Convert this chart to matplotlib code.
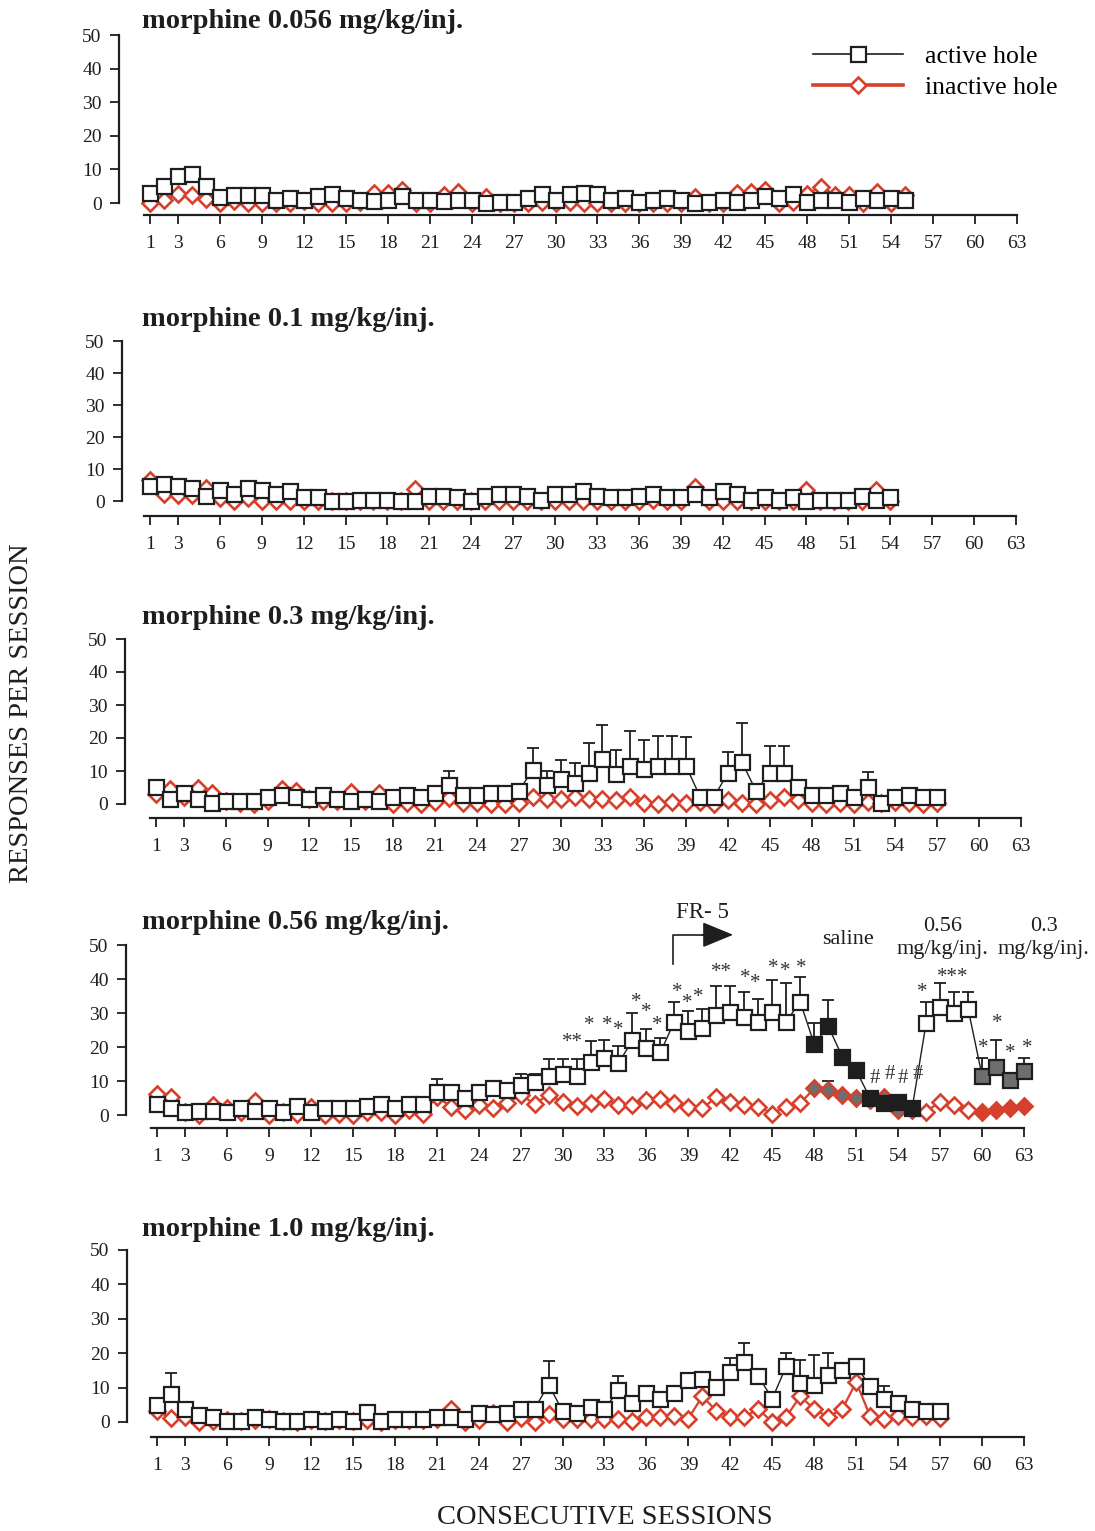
import numpy as np
import matplotlib.pyplot as plt
from matplotlib.lines import Line2D

plt.rcParams['font.family'] = ['Liberation Serif', 'DejaVu Serif']

RED = '#d6402c'
GREY = '#6e6e6e'
INK = '#1e1e1e'

# ---------------- data: mean responses per session ----------------
active_0056 = [3.1, 5, 8, 8.7, 5, 1.9, 2.5, 2.5, 2.5, 0.8,
               1.4, 0.8, 2, 2.6, 1.4, 0.8, 0.5, 0.8, 2.1, 0.8,
               0.8, 0.5, 0.8, 0.8, 0, 0.2, 0.2, 1.4, 2.6, 0.8,
               2.6, 3.1, 2.6, 0.8, 1.4, 0.3, 0.8, 1.4, 0.8, 0,
               0.2, 0.8, 0.2, 0.8, 2, 1.4, 2.6, 0.2, 0.8, 0.8,
               0.2, 1.4, 0.8, 1.4, 0.8]
inactive_0056 = [0.1, 0.9, 2.8, 2.4, 1.1, 0, 0.6, 0, 0, 0,
                 0, 0.5, 0, 0, 0, 0.3, 3, 3, 3.8, 0,
                 0, 2.4, 3.3, 0, 1.9, 0, 0, 0, 0.4, 0,
                 0.4, 0, 0, 0, 0, 0, 0, 0, 0, 1.7,
                 0, 0, 3, 3.3, 4, 0, 0.4, 2.8, 4.8, 2.4,
                 2.4, 0, 3.3, 0, 2.4]

active_01 = [4.8, 5.4, 4.8, 4.1, 1.6, 3.5, 2.1, 4.2, 3.5, 2.3,
             3, 1.1, 1.1, 0, 0, 0.4, 0.4, 0.4, 0, 0,
             1.7, 1.7, 1.1, 0, 1.7, 2.3, 2.3, 1.7, 0.4, 2.3,
             2.3, 3, 1.7, 1.1, 1.1, 1.7, 2.3, 1.1, 1.1, 2.3,
             1.1, 3, 2.3, 0.4, 1.1, 0.4, 1.1, 0, 0.4, 0.4,
             0.4, 1.7, 0.4, 1.1]
inactive_01 = [6.5, 2.3, 1.8, 1.8, 4, 0.8, 0, 0.8, 0, 0,
               0, 0, 0, 0, 0, 0, 0, 0, 0, 3.6,
               0, 0, 0, 0, 0, 0, 0, 0, 0, 0,
               0, 0, 0, 0, 0, 0, 0.3, 0, 0, 4.5,
               0, 0, 0, 0, 0, 0, 0, 3.4, 0, 0,
               0, 0, 3.4, 0]

active_03 = [5.2, 1.5, 3.4, 1.5, 0.3, 0.9, 0.9, 0.9, 2.2, 2.7,
             2.2, 1.5, 2.7, 1.5, 0.9, 1.5, 0.9, 2.2, 2.7, 2.2,
             3.4, 5.9, 2.7, 2.7, 3.4, 3.4, 4, 10.2, 5.9, 7.7,
             6.4, 9.4, 13.7, 9, 11.4, 10.7, 11.4, 11.4, 11.4, 2.2,
             2.2, 9.4, 12.7, 4, 9.4, 9.4, 5.2, 2.7, 2.7, 3.4,
             2.2, 5.2, 0.2, 2.2, 2.7, 2.2, 2.2]
inactive_03 = [3, 4.5, 2, 5, 3.4, 1, 0.3, 0, 1, 4.5,
               4, 1.5, 1, 1, 3.7, 1, 3.4, 0, 0.2, 0,
               0.5, 1.7, 0.2, 0.2, 0, 0, 0.2, 2.2, 1.4, 1.4,
               2.2, 1.4, 1.4, 1.2, 2, 0.2, 0, 0.7, 0.2, 0.5,
               0, 1.2, 0.2, 0, 1.2, 2, 1.2, 0.2, 0, 0.2,
               0, 0.7, 0.2, 0.7, 0.2, 0, 0.2]
err_03 = {22: 4.0, 28: 6.8, 29: 4.0, 30: 5.7, 31: 6.0, 32: 9.0, 33: 10.2,
          34: 7.4, 35: 10.6, 36: 8.8, 37: 9.3, 38: 9.3, 39: 8.8, 42: 6.3,
          43: 11.7, 45: 8.3, 46: 8.3, 52: 4.5}

active_056 = [3.3, 2, 0.8, 1.3, 1.3, 0.8, 2, 1.3, 2, 0.8,
              2.7, 0.8, 2, 2, 2, 2.7, 3.3, 2, 3.3, 3.3,
              6.8, 6.8, 5.1, 6.8, 8, 7.3, 8.8, 9.7, 11.6, 12.1,
              11.6, 15.5, 16.9, 15.2, 22, 19.8, 18.4, 27.5, 24.6, 25.6,
              29.4, 30.4, 28.9, 27.5, 30.4, 27.5, 33.3, 20.8, 26.1, 17.2,
              13.1, 4.9, 3.5, 3.9, 2, 27, 31.7, 29.9, 31.3, 11.6,
              14.2, 10.2, 12.8]
inactive_056 = [6.3, 5.4, 1, 0, 3, 2, 1, 4, 0, 1,
                0.4, 2.5, 0, 0.4, 0, 1, 1, 0, 1.5, 0.4,
                5.4, 2.5, 1.5, 3, 2, 3.5, 5.9, 3.3, 5.9, 3.9,
                2.7, 3.5, 4.6, 3, 3, 4.4, 4.6, 3.5, 2.5, 2,
                5.2, 3.9, 3, 2.5, 0.4, 2.5, 3.5, 7.8, 7.3, 5.9,
                4.9, 4.4, 5.4, 1.5, 1.5, 1, 3.9, 3, 1.5, 1,
                1.5, 2, 2.7]
err_056 = {21: 3.9, 27: 3.2, 28: 2.5, 29: 4.8, 30: 4.3, 31: 4.8, 32: 6.2,
           33: 5.1, 34: 5.1, 35: 7.9, 36: 5.5, 37: 4.3, 38: 5.8, 39: 6.0,
           40: 5.7, 41: 8.5, 42: 7.5, 43: 7.4, 44: 6.5, 45: 9.4, 46: 11.3,
           47: 7.2, 48: 6.2, 49: 7.7, 56: 6.3, 57: 7.1, 58: 6.3, 59: 5.0,
           60: 5.3, 61: 8.0, 63: 4.1}
err_056_inactive = {49: 2.7}
# phase of each session in the 0.56 group
saline_sessions = range(48, 56)
switch_sessions = range(60, 64)

active_10 = [4.8, 8, 3.8, 2, 1.5, 0.3, 0.3, 1.5, 1, 0.3,
             0.3, 1, 0.3, 1, 0.3, 2.9, 0.3, 1, 1, 1,
             1.5, 1.5, 1, 2.7, 2.2, 2.7, 3.8, 3.8, 10.9, 3.2,
             2.7, 4.4, 3.8, 9.2, 5.6, 8.5, 6.8, 8.5, 12.1, 12.5,
             10.2, 14.4, 17.3, 13.3, 6.8, 16.2, 11.3, 10.9, 13.8, 15,
             16.2, 10.4, 6.8, 5.6, 3.8, 3.2, 3.2]
inactive_10 = [3.2, 1.2, 1.5, 0, 0.3, 0.5, 0.3, 0.5, 1, 0.3,
               0, 0.5, 0.3, 0.5, 0.3, 0.5, 0, 0.5, 0.5, 0.5,
               1, 3.8, 0, 0.5, 2.5, 0, 1.2, 0, 2.2, 0.8,
               0.8, 1, 0.8, 1, 0.3, 1.5, 1.5, 1.7, 1, 7.5,
               3.2, 1.5, 1.5, 3.7, 0, 1.5, 7.5, 3.7, 1.5, 3.7,
               11.6, 1.7, 1, 1.7, 1.5, 1.7, 1.3]
err_10 = {2: 6.2, 29: 6.7, 34: 4.3, 42: 4.2, 43: 5.6, 46: 3.8, 47: 6.7,
          48: 8.6, 49: 6.2, 53: 3.6}

# significance marks above the 0.56 group (session, level, symbol)
mark_x = [30.7, 31.9, 33.2, 34.0, 35.3, 36.0, 36.8, 38.2, 38.9, 39.7,
          41.4, 43.1, 43.8, 45.1, 45.9, 47.1, 52.3, 53.4, 54.3, 55.4,
          55.7, 57.9, 61.1, 60.1, 62.0, 63.2]
mark_y = [23, 28, 28.2, 26.5, 34.8, 31.8, 28, 37.7, 34.5, 36.3,
          43.6, 41.9, 40.4, 45, 43.9, 45, 11.3, 12.7, 11.3, 12.7,
          37.7, 42.2, 28.6, 21.3, 19.8, 21.3]
mark_txt = ['**', '*', '*', '*', '*', '*', '*', '*', '*', '*',
            '**', '*', '*', '*', '*', '*', '#', '#', '#', '#',
            '*', '***', '*', '*', '*', '*']

xticks = [1, 3, 6, 9, 12, 15, 18, 21, 24, 27, 30, 33, 36, 39, 42, 45, 48,
          51, 54, 57, 60, 63]

W, H = 1095, 1531
fig = plt.figure(figsize=(W / 100, H / 100), dpi=100)


def make_axes(yaxis_px, y0_px, y50_px, xline_px, s1_px, s63_px):
    left, right = yaxis_px, 1050
    top, bottom = y50_px - 15, xline_px
    ax = fig.add_axes([left / W, 1 - bottom / H, (right - left) / W, (bottom - top) / H])
    per = (s63_px - s1_px) / 62
    ax.set_xlim(1 + (left - s1_px) / per, 1 + (right - s1_px) / per)
    upp = 50 / (y0_px - y50_px)
    ax.set_ylim(-(bottom - y0_px) * upp, 50 + (y50_px - top) * upp)
    ax.spines['top'].set_visible(False)
    ax.spines['right'].set_visible(False)
    for sp in ('left', 'bottom'):
        ax.spines[sp].set_linewidth(1.6)
        ax.spines[sp].set_color(INK)
    ax.spines['left'].set_bounds(0, 50)
    ax.spines['bottom'].set_bounds(0.6, 63)
    ax.set_xticks(xticks)
    ax.set_yticks(range(0, 51, 10))
    ax.tick_params(direction='out', length=6.5, width=1.3, labelsize=14,
                   colors=INK)
    ax.tick_params(axis='y', pad=6)
    ax.tick_params(axis='x', pad=8)
    ax.patch.set_visible(False)
    return ax


def draw(ax, active, inactive, err=None, i_err=None, a_face=None, i_face=None):
    sa = np.arange(1, len(active) + 1)
    si = np.arange(1, len(inactive) + 1)
    ax.plot(si, inactive, color=RED, lw=1.6, zorder=2)
    if i_face is None:
        i_face = ['white'] * len(inactive)
    for s, v, fc in zip(si, inactive, i_face):
        ax.plot(s, v, ls='none', marker='D', ms=8.3, mfc=fc, mec=RED, mew=1.9,
                zorder=2.2, clip_on=False)
    if i_err:
        ss = list(i_err)
        ax.errorbar(ss, [inactive[s - 1] for s in ss],
                    yerr=[np.zeros(len(ss)), [i_err[s] for s in ss]],
                    fmt='none', ecolor=INK, elinewidth=1.3, capsize=4.5,
                    capthick=1.3, zorder=2.1)
    if err:
        ss = list(err)
        ax.errorbar(ss, [active[s - 1] for s in ss],
                    yerr=[np.zeros(len(ss)), [err[s] for s in ss]],
                    fmt='none', ecolor=INK, elinewidth=1.3, capsize=4.5,
                    capthick=1.3, zorder=2.5)
    ax.plot(sa, active, color=INK, lw=1.0, zorder=3)
    if a_face is None:
        a_face = ['white'] * len(active)
    for s, v, fc in zip(sa, active, a_face):
        ax.plot(s, v, ls='none', marker='s', ms=10.8, mfc=fc, mec=INK, mew=1.6,
                zorder=4, clip_on=False)


def title(y_px, txt):
    fig.text(142 / W, 1 - y_px / H, txt, fontsize=20.5, fontweight='bold',
             ha='left', va='center', color=INK)


# panel 1
ax1 = make_axes(119, 203, 35, 215, 150, 1017)
draw(ax1, active_0056, inactive_0056)
title(21, 'morphine 0.056 mg/kg/inj.')
handles = [Line2D([], [], color=INK, lw=1.2, marker='s', ms=10.8, mfc='white',
                  mec=INK, mew=1.6),
           Line2D([], [], color=RED, lw=2.6, marker='D', ms=8.3, mfc='white',
                  mec=RED, mew=1.9)]
ax1.legend(handles, ['active hole', 'inactive hole'], loc='upper left',
           bbox_to_anchor=(813 / W, 1 - 45 / H), bbox_transform=fig.transFigure,
           frameon=False, fontsize=18.5, handlelength=3.5, handletextpad=0.85,
           labelspacing=0.3, borderpad=0, borderaxespad=0, numpoints=1)

# panel 2
ax2 = make_axes(122, 501, 341, 516, 150, 1016)
draw(ax2, active_01, inactive_01)
title(319, 'morphine 0.1 mg/kg/inj.')

# panel 3
ax3 = make_axes(125, 804, 639, 818, 156, 1021)
draw(ax3, active_03, inactive_03, err=err_03)
title(618, 'morphine 0.3 mg/kg/inj.')

# panel 4
ax4 = make_axes(126, 1115, 945, 1128, 157, 1024)
a_face, i_face = [], []
for s in range(1, len(active_056) + 1):
    if s in saline_sessions:
        a_face.append(INK)
        i_face.append(GREY)
    elif s in switch_sessions:
        a_face.append(GREY)
        i_face.append(RED)
    else:
        a_face.append('white')
        i_face.append('white')
draw(ax4, active_056, inactive_056, err=err_056, i_err=err_056_inactive,
     a_face=a_face, i_face=i_face)
title(923, 'morphine 0.56 mg/kg/inj.')
for x, y, t in zip(mark_x, mark_y, mark_txt):
    off = 3.1 if '*' in t else 2.0
    ax4.text(x, y - off, t, fontsize=15, ha='center', va='baseline', color='#333')
ax4.plot([37.9, 37.9, 40.3], [44.5, 53, 53], color=INK, lw=1.2, clip_on=False)
ax4.annotate('', xy=(42.2, 53), xytext=(40.0, 53), annotation_clip=False,
             arrowprops=dict(arrowstyle='-|>,head_length=0.97,head_width=0.4',
                             mutation_scale=20, color=INK, lw=1.2,
                             shrinkA=0, shrinkB=0))
ax4.text(40.0, 59.5, 'FR- 5', fontsize=16.5, ha='center', va='center', color=INK)
ax4.text(50.4, 51.5, 'saline', fontsize=16, ha='center', va='center', color=INK)
ax4.text(57.2, 55.4, '0.56', fontsize=16, ha='center', va='center', color=INK)
ax4.text(57.2, 48.6, 'mg/kg/inj.', fontsize=16, ha='center', va='center', color=INK)
ax4.text(64.4, 55.4, '0.3', fontsize=16, ha='center', va='center', color=INK)
ax4.text(64.4, 48.6, 'mg/kg/inj.', fontsize=16, ha='center', va='center', color=INK)

# panel 5
ax5 = make_axes(127, 1422, 1250, 1437, 157, 1024)
draw(ax5, active_10, inactive_10, err=err_10)
title(1229, 'morphine 1.0 mg/kg/inj.')

fig.text(22 / W, 1 - 713 / H, 'RESPONSES PER SESSION', rotation=90,
         fontsize=20.5, ha='center', va='center', color=INK)
fig.text(605 / W, 1 - 1518 / H, 'CONSECUTIVE SESSIONS', fontsize=20.5,
         ha='center', va='center', color=INK)

fig.savefig('out.png', dpi=100)
